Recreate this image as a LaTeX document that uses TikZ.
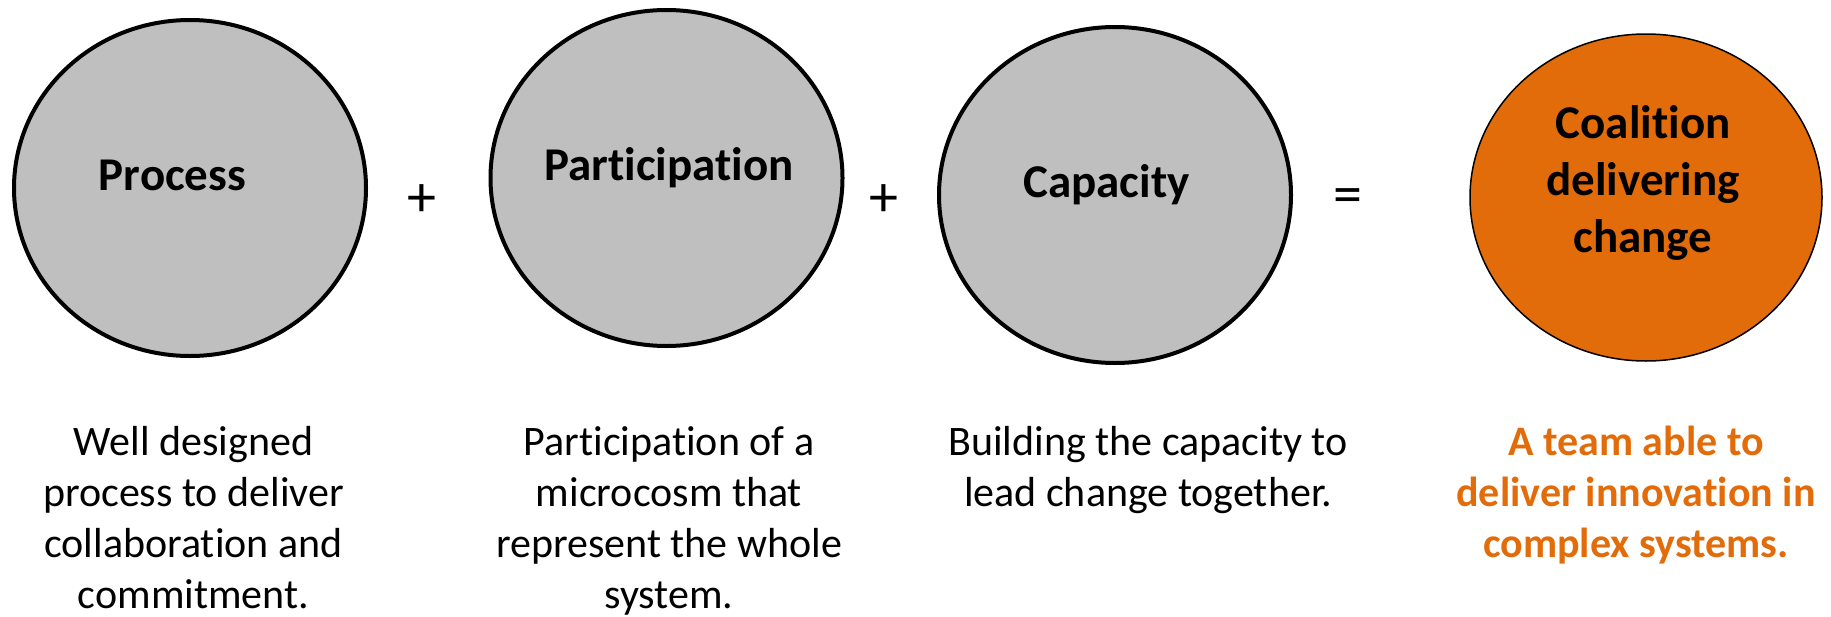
\documentclass[tikz,border=0pt]{standalone}
\usepackage{fontspec}
\setmainfont{Carlito}[Ligatures=NoCommon]
\usetikzlibrary{shapes,positioning}
\definecolor{discgray}{RGB}{191,191,191}
\definecolor{teamorange}{RGB}{227,108,10}

\begin{document}
\begin{tikzpicture}[x=1pt,y=-1pt]
\tikzset{disc/.style={ellipse,draw,line width=4pt,fill=discgray,minimum width=352pt,minimum height=336pt,inner sep=0pt}}
\tikzset{title/.style={font=\fontsize{47}{57}\selectfont\bfseries,align=center,anchor=base}}
\tikzset{desc/.style={font=\fontsize{42}{51}\selectfont,align=center,anchor=base}}
\tikzset{op/.style={font=\fontsize{58}{60}\selectfont,inner sep=0pt}}

\useasboundingbox (0,0) rectangle (1831,616);

% the four discs
\node [disc] (process) at (190,188) {};
\node [disc] (particip) at (666.5,178) {};
\node [disc] (capacity) at (1115,195) {};
\node [disc, fill=teamorange, line width=1.5pt, minimum width=352pt, minimum height=327pt] (coalition) at (1646,197.5) {};

% base of a text sits on its last line
\node [title] (process-t) at (172.5,190) {Process};
\node [title] (particip-t) at (669,180) {Participation};
\node [title] (capacity-t) at (1106.5,197) {Capacity};
\node [title] (coalition-t) at (1643,252) {Coalition\\delivering\\change};

% operators
\node [op] (plus1) at (422,201) {+};
\node [op] (plus2) at (884,201) {+};
\node [op] (equals) at (1348,201) {=};

% texts below
\node [desc] (process-d) at (193.5,608) {Well designed\\process to deliver\\collaboration and\\commitment.};
\node [desc] (particip-d) at (669,608) {Participation of a\\microcosm that\\represent the whole\\system.};
\node [desc] (capacity-d) at (1148,506) {Building the capacity to\\lead change together.};
\node [desc, font=\fontsize{42}{51}\selectfont\bfseries, text=teamorange] (coalition-d) at (1636,557) {A team able to\\deliver innovation in\\complex systems.};

\end{tikzpicture}
\end{document}
